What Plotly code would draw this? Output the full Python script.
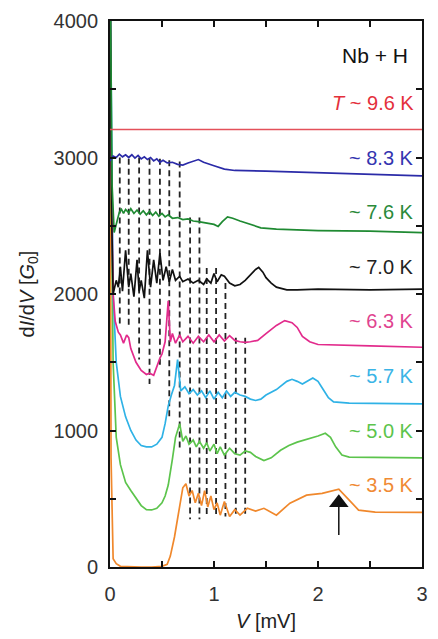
import plotly.graph_objects as go

# ---------------- data ----------------
v_red = [0.0, 3.0]
g_red = [3205, 3205]

v_blue = [0, 0.03, 0.06, 0.09, 0.12, 0.15, 0.18, 0.21, 0.24, 0.27, 0.3, 0.33, 0.36, 0.39, 0.42, 0.45,
          0.48, 0.51, 0.55, 0.6, 0.65, 0.7, 0.75, 0.8, 0.85, 0.9, 0.95, 1.0, 1.1, 1.2, 1.5, 2.0, 2.5, 3.0]
g_blue = [2975, 3010, 3000, 3025, 3005, 3020, 3000, 3020, 2995, 3015, 2990, 3005, 2985, 3000, 2975, 2990,
          2965, 2980, 2960, 2965, 2950, 2945, 2960, 2975, 2985, 2965, 2950, 2940, 2915, 2905, 2900, 2890, 2880, 2865]

v_dgreen = [0, 0.02, 0.04, 0.07, 0.09, 0.11, 0.13, 0.15, 0.18, 0.2, 0.23, 0.26, 0.29, 0.32, 0.35, 0.38,
            0.41, 0.44, 0.47, 0.5, 0.53, 0.56, 0.6, 0.65, 0.7, 0.75, 0.8, 0.85, 0.9, 0.95, 1.0, 1.04,
            1.08, 1.13, 1.18, 1.25, 1.35, 1.45, 1.6, 1.8, 2.0, 2.5, 3.0]
g_dgreen = [4500, 2800, 2450, 2550, 2600, 2620, 2590, 2620, 2595, 2625, 2590, 2615, 2585, 2610, 2580, 2605,
            2575, 2600, 2570, 2590, 2565, 2580, 2555, 2560, 2545, 2550, 2535, 2530, 2525, 2520, 2510, 2495,
            2530, 2565, 2555, 2535, 2510, 2485, 2475, 2470, 2465, 2460, 2450]

v_black = [0, 0.015, 0.03, 0.06, 0.08, 0.1, 0.12, 0.15, 0.18, 0.2, 0.23, 0.26, 0.28, 0.3, 0.33, 0.36,
           0.39, 0.42, 0.45, 0.48, 0.51, 0.54, 0.57, 0.6, 0.63, 0.67, 0.7, 0.75, 0.8, 0.85, 0.9, 0.93,
           0.97, 1.0, 1.03, 1.07, 1.1, 1.15, 1.2, 1.25, 1.3, 1.35, 1.4, 1.43, 1.47, 1.5, 1.55, 1.6,
           1.7, 1.8, 2.0, 2.5, 3.0]
g_black = [4500, 2600, 2000, 2100, 2050, 2200, 2020, 2320, 2050, 2150, 1980, 2250, 2020, 2100, 1970, 2320,
           2050, 2250, 2080, 2300, 2100, 2200, 2090, 2180, 2100, 2130, 2090, 2110, 2080, 2100, 2070, 2110,
           2080, 2150, 2090, 2140, 2130, 2080, 2060, 2070, 2100, 2140, 2180, 2195, 2160, 2120, 2080, 2050,
           2030, 2030, 2035, 2030, 2035]

v_mag = [0, 0.01, 0.03, 0.05, 0.08, 0.1, 0.13, 0.16, 0.18, 0.2, 0.25, 0.3, 0.35, 0.38, 0.42, 0.45, 0.48,
         0.5, 0.53, 0.56, 0.58, 0.6, 0.63, 0.67, 0.7, 0.75, 0.8, 0.85, 0.9, 0.95, 1.0, 1.05, 1.1, 1.15,
         1.2, 1.25, 1.3, 1.35, 1.42, 1.5, 1.6, 1.68, 1.75, 1.8, 1.85, 1.92, 2.0, 2.5, 3.0]
g_mag = [4500, 3000, 2000, 1800, 1720, 1700, 1640, 1700, 1680, 1600, 1500, 1440, 1410, 1420, 1405, 1470, 1530,
         1560, 1650, 1950, 1650, 1710, 1640, 1700, 1650, 1690, 1640, 1690, 1650, 1700, 1650, 1700, 1655, 1695,
         1660, 1650, 1645, 1650, 1660, 1710, 1770, 1805, 1790, 1755, 1690, 1650, 1630, 1620, 1610]

v_cyan = [0, 0.01, 0.03, 0.06, 0.1, 0.15, 0.2, 0.25, 0.3, 0.35, 0.4, 0.45, 0.5, 0.53, 0.56, 0.59, 0.62,
          0.65, 0.68, 0.72, 0.76, 0.8, 0.84, 0.88, 0.92, 0.96, 1.0, 1.04, 1.08, 1.12, 1.16, 1.2, 1.25,
          1.3, 1.35, 1.4, 1.45, 1.5, 1.6, 1.7, 1.75, 1.8, 1.85, 1.95, 2.0, 2.05, 2.1, 2.15, 2.3, 3.0]
g_cyan = [4500, 3500, 2000, 1500, 1250, 1100, 1000, 930, 890, 880, 880, 900, 950, 1050, 1180, 1260, 1330,
          1520, 1290, 1320, 1270, 1300, 1260, 1290, 1240, 1290, 1230, 1280, 1240, 1290, 1250, 1280, 1260,
          1250, 1230, 1220, 1230, 1260, 1300, 1360, 1375, 1360, 1340, 1385, 1360, 1300, 1240, 1210, 1200, 1195]

v_lgreen = [0, 0.01, 0.03, 0.06, 0.1, 0.15, 0.2, 0.25, 0.3, 0.35, 0.4, 0.45, 0.5, 0.53, 0.56, 0.6, 0.63,
            0.67, 0.7, 0.73, 0.76, 0.8, 0.83, 0.86, 0.9, 0.93, 0.96, 1.0, 1.03, 1.06, 1.1, 1.15, 1.2,
            1.25, 1.3, 1.35, 1.4, 1.48, 1.55, 1.64, 1.72, 1.8, 1.9, 1.95, 2.0, 2.07, 2.12, 2.17, 2.23,
            2.3, 2.5, 3.0]
g_lgreen = [4500, 3000, 1500, 950, 750, 620, 560, 500, 450, 420, 418, 430, 470, 520, 600, 790, 950,
            1050, 920, 960, 900, 930, 880, 920, 870, 910, 850, 900, 830, 880, 820, 870, 830,
            820, 850, 840, 810, 780, 800, 855, 890, 915, 935, 950, 960, 980, 950, 880, 820,
            805, 805, 800]

v_orange = [0, 0.01, 0.03, 0.06, 0.1, 0.2, 0.3, 0.4, 0.5, 0.55, 0.58, 0.62, 0.66, 0.7, 0.73, 0.76, 0.79,
            0.82, 0.85, 0.88, 0.91, 0.94, 0.97, 1.0, 1.03, 1.06, 1.1, 1.15, 1.2, 1.25, 1.32, 1.4, 1.48,
            1.6, 1.73, 1.89, 2.04, 2.2, 2.3, 2.39, 2.55, 3.0]
g_orange = [4500, 800, 60, 25, 5, 0, 0, 0, 5, 20, 80, 220, 400, 580, 610, 520, 560, 470, 540, 450, 560,
            440, 520, 420, 470, 380, 480, 370, 420, 380, 430, 410, 430, 380, 468, 526, 540, 570, 490,
            417, 402, 400]

# dashed guide lines: position, upper end, lower end
dash_v = [0.094, 0.18, 0.28, 0.38, 0.48, 0.57, 0.67, 0.77, 0.86, 0.93, 1.02, 1.11, 1.21, 1.30]
dash_top = [3000, 2990, 3000, 2990, 2990, 2980, 2970, 2560, 2560, 2190, 2190, 2080, 1680, 1680]
dash_bot = [1780, 1750, 1520, 1340, 1460, 1100, 860, 350, 350, 380, 370, 370, 360, 390]

# temperature labels
lab_text = ["<i>T</i> ~ 9.6 K", "~ 8.3 K", "~ 7.6 K", "~ 7.0 K", "~ 6.3 K", "~ 5.7 K", "~ 5.0 K", "~ 3.5 K"]
lab_y = [3400, 3000, 2600, 2200, 1800, 1400, 1000, 600]

x_major = 1
x_minor = 0.5
y_major = 1000
y_minor = 500

arrow_v = 2.2
arrow_tail = 234
arrow_shaft_top = 440
arrow_head = 470

# ---------------- styles ----------------
curves = [
    (v_orange, g_orange, "#f0882c"),
    (v_lgreen, g_lgreen, "#5cc44c"),
    (v_cyan, g_cyan, "#2fb2e6"),
    (v_mag, g_mag, "#e22b8c"),
    (v_black, g_black, "#111111"),
    (v_dgreen, g_dgreen, "#1f8a32"),
    (v_blue, g_blue, "#2b2ba8"),
    (v_red, g_red, "#e4505a"),
]
label_colors = ["#e4303c", "#3434b0", "#2a8a3a", "#222222", "#e0448f", "#3ab4e6", "#5cc44c", "#f08a34"]

FONT = "Liberation Sans, Arial, sans-serif"

fig = go.Figure()

# dashed lines
dx, dy = [], []
for v, t, b in zip(dash_v, dash_top, dash_bot):
    dx += [v, v, None]
    dy += [t, b, None]
fig.add_trace(go.Scatter(x=dx, y=dy, mode="lines",
                         line=dict(color="#222222", width=1.8, dash="6px,4px"),
                         hoverinfo="skip", showlegend=False))

for xs, ys, c in curves:
    fig.add_trace(go.Scatter(x=xs, y=ys, mode="lines", line=dict(color=c, width=1.7),
                             showlegend=False))

# arrow (shaft + triangular head)
fig.add_trace(go.Scatter(x=[arrow_v, arrow_v], y=[arrow_tail, arrow_shaft_top], mode="lines",
                         line=dict(color="#111111", width=1.5), hoverinfo="skip", showlegend=False))
fig.add_trace(go.Scatter(x=[arrow_v], y=[arrow_head], mode="markers",
                         marker=dict(symbol="triangle-up", size=17, color="#111111", line=dict(width=0)),
                         hoverinfo="skip", showlegend=False))

ann = []
for t, y, c in zip(lab_text, lab_y, label_colors):
    ann.append(dict(x=2.94, y=y, xref="x", yref="y", text=t, showarrow=False,
                    xanchor="right", yanchor="middle", font=dict(family=FONT, size=20, color=c)))
ann.append(dict(x=2.88, y=3745, xref="x", yref="y", text="Nb + H", showarrow=False,
                xanchor="right", yanchor="middle", font=dict(family=FONT, size=21, color="#111111")))

axis_common = dict(showline=True, linecolor="#111111", linewidth=1.8, mirror="ticks",
                   ticks="inside", ticklen=6, tickwidth=1.5, tickcolor="#111111",
                   showgrid=False, zeroline=False,
                   tickfont=dict(family=FONT, size=20, color="#333333"))

fig.update_layout(
    width=438, height=639,
    margin=dict(l=110, r=10, t=20, b=72),
    paper_bgcolor="white", plot_bgcolor="white",
    xaxis=dict(range=[0, 3], tick0=0, dtick=x_major, ticklabelstandoff=8,
               title=dict(text="<i>V</i> [mV]", standoff=10,
                          font=dict(family=FONT, size=20, color="#222222")),
               minor=dict(dtick=x_minor, tick0=0, ticks="inside", ticklen=6, tickwidth=1.5,
                          tickcolor="#111111", showgrid=False),
               **axis_common),
    yaxis=dict(range=[0, 4000], tick0=0, dtick=y_major, ticklabelstandoff=6,
               title=dict(text="d<i>I</i>/d<i>V</i> [<i>G</i><sub>0</sub>]", standoff=14,
                          font=dict(family=FONT, size=20, color="#222222")),
               minor=dict(dtick=y_minor, tick0=0, ticks="inside", ticklen=6, tickwidth=1.5,
                          tickcolor="#111111", showgrid=False),
               **axis_common),
    annotations=ann,
)

fig.write_html("out.html", config={"displayModeBar": False},
               post_script="document.body.style.margin='0';document.body.style.overflow='hidden';")
